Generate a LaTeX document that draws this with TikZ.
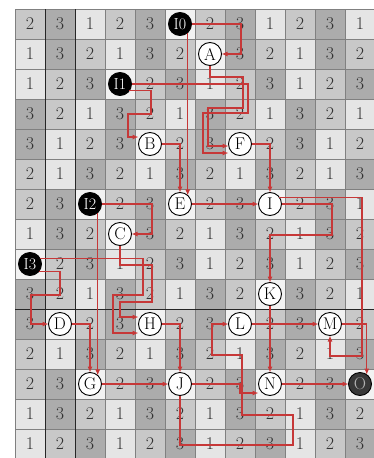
\documentclass[tikz,border=0pt]{standalone}
\usetikzlibrary{arrows.meta}
\definecolor{redline}{RGB}{198,56,56}
\definecolor{shadeN}{RGB}{242,242,242}
\definecolor{shadeA}{RGB}{229,229,229}
\definecolor{shadeB}{RGB}{200,200,200}
\definecolor{shadeC}{RGB}{172,172,172}
\tikzset{
  num/.style={font=\fontsize{18}{18}\selectfont, text=black!80, inner sep=0pt},
  wnode/.style={circle, draw=black, line width=0.9pt, fill=white, minimum size=23pt, inner sep=0pt, outer sep=0pt, font=\fontsize{17}{17}\selectfont},
  bnode/.style={wnode, fill=black, text=white, font=\fontsize{16}{16}\selectfont},
  onode/.style={wnode, fill=black!78, text=black!30},
  arr/.style={draw=redline, line width=1.1pt, -{Latex[length=6pt,width=5pt]}},
  gridln/.style={draw=black!50, line width=0.6pt},
  gridbold/.style={draw=black!85, line width=0.9pt},
}
\begin{document}
\begin{tikzpicture}[x=1pt,y=-1pt]
\useasboundingbox (0,0) rectangle (374,458);
\clip (0,0) rectangle (374,458);
\fill[white] (0,0) rectangle (374,458);
% cells
\foreach \rowdata [count=\r] in {
 {2,3,1,2,3,0,2,3,1,2,3,1},
 {1,3,2,1,3,2,0,3,2,1,3,2},
 {1,2,3,0,2,3,1,2,3,1,2,3},
 {3,2,1,3,2,1,3,2,1,3,2,1},
 {3,1,2,3,0,2,3,0,2,3,1,2},
 {2,1,3,2,1,3,2,1,3,2,1,3},
 {2,3,0,2,3,0,2,3,0,2,3,1},
 {1,3,2,0,3,2,1,3,2,1,3,2},
 {0,2,3,1,2,3,1,2,3,1,2,3},
 {3,2,1,3,2,1,3,2,0,3,2,1},
 {3,0,2,3,0,2,3,0,2,3,0,2},
 {2,1,3,2,1,3,2,1,3,2,1,3},
 {2,3,0,2,3,0,2,3,0,2,3,0},
 {1,3,2,1,3,2,1,3,2,1,3,2},
 {1,2,3,1,2,3,1,2,3,1,2,3}} {
  \foreach \v [count=\c] in \rowdata {
    \ifcase\v \def\cellcol{shadeN}\or\def\cellcol{shadeA}\or\def\cellcol{shadeB}\or\def\cellcol{shadeC}\fi
    \fill[\cellcol] ({30*\c-15},{30*\r-21}) rectangle ++(30,30);
    \ifnum\v>0 \node[num] (n\r-\c) at ({30*\c},{30*\r-6}) {\v};\fi
  }
}
% grid
\foreach \k in {0,...,12} \draw[gridln] ({15+30*\k},9) -- ({15+30*\k},460);
\foreach \k in {0,...,15} \draw[gridln] (15,{9+30*\k}) -- (376,{9+30*\k});
\draw[gridbold] (45,9) -- (45,460);
\draw[gridbold] (75,9) -- (75,460);
\draw[gridbold] (15,309) -- (376,309);
% nodes
\node[bnode] (I0) at (180,24) {I0};
\node[wnode] (A) at (210,54) {A};
\node[bnode] (I1) at (120,84) {I1};
\node[wnode] (B) at (150,144) {B};
\node[wnode] (F) at (240,144) {F};
\node[bnode] (I2) at (90,204) {I2};
\node[wnode] (E) at (180,204) {E};
\node[wnode] (I) at (270,204) {I};
\node[wnode] (C) at (120,234) {C};
\node[bnode] (I3) at (30,264) {I3};
\node[wnode] (K) at (270,294) {K};
\node[wnode] (D) at (60,324) {D};
\node[wnode] (H) at (150,324) {H};
\node[wnode] (L) at (240,324) {L};
\node[wnode] (M) at (330,324) {M};
\node[wnode] (G) at (90,384) {G};
\node[wnode] (J) at (180,384) {J};
\node[wnode] (N) at (270,384) {N};
\node[onode] (O) at (360,384) {O};
% connectors
\draw[arr] (I0.east) -| (241,54) -- (A.east);
\draw[arr] (I0.-48) -- (E.48);
\draw[arr] (B.east) -| (E.north);
\draw[arr] (A.south) -- (210,77) -| (243,108) -| (208,146) -- (F.west |- 0,146);
\draw[arr] (I1.east) -| (248,113) -| (203,153) -- (F.west |- 0,153);
\draw[arr] (I1.-35) -| (151,114) -| (128,137) -- (B.west |- 0,137);
\draw[arr] (I2.east) -| (152,234) -- (C.east);
\draw[arr] (I2.-48) -- (G.48);
\draw[arr] (I3.-42) -| (60,295) -| (31,324) -- (D.west);
\draw[arr] (I3.30) -| (143,295) -| (113,333) -- (H.west |- 0,333);
\draw[arr] (C.south) -- (120,265) -| (152,302) -| (120,317) -- (H.west |- 0,317);
\draw[arr] (D.east) -| (G.north);
\draw[arr] (H.east) -| (J.north);
\draw[arr] (G.east) -- (J.west);
\draw[arr] (E.east) -- (I.west);
\draw[arr] (F.east) -| (I.north);
\draw[arr] (I.35) -| (362,356) -| (M.south);
\draw[arr] (I.east) -| (332,235) -| (K.north);
\draw[arr] (K.south) -- (N.north);
\draw[arr] (L.east) -- (M.west);
\draw[arr] (M.east) -| (O.54);
\draw[arr] (J.south) -- (180,445) -| (293,415) -| (242,355) -| (212,324) -- (L.west);
\draw[arr] (J.east) -| (240,393) -- (N.west |- 0,393);
\draw[arr] (N.east) -- (O.west);
\end{tikzpicture}
\end{document}
